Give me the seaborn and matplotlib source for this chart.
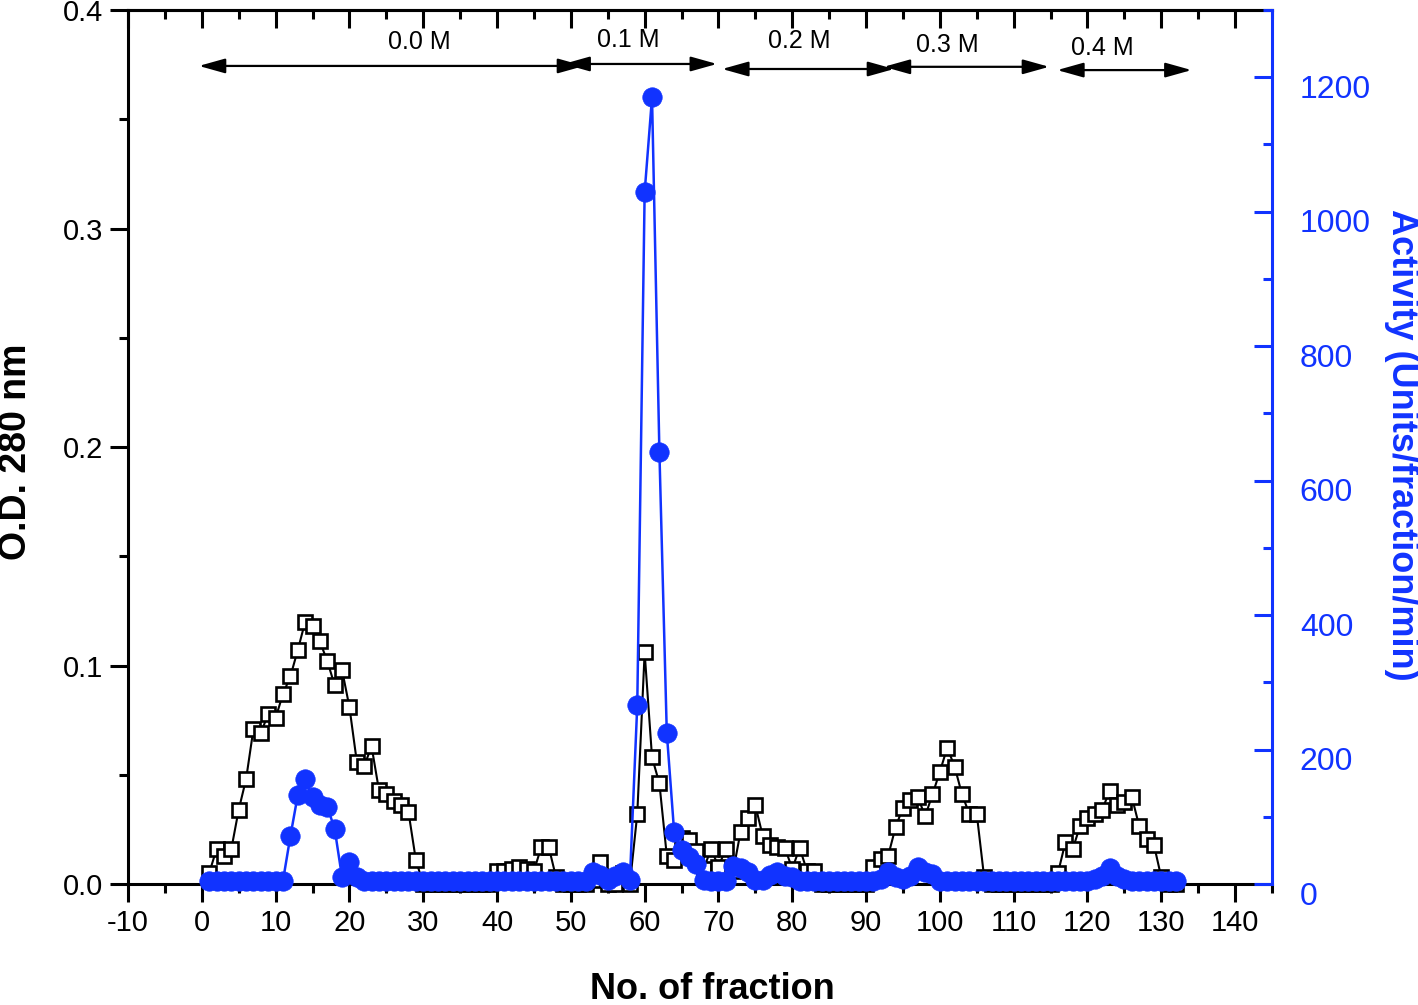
import numpy as np
import pandas as pd
import matplotlib
matplotlib.use("Agg")
import matplotlib.pyplot as plt
import matplotlib.transforms as mtransforms
from matplotlib.ticker import MultipleLocator
import seaborn as sns

# ---------------- data ----------------
fractions = list(range(1, 133))

od_280 = [
    0.005, 0.016, 0.013, 0.016, 0.034, 0.048, 0.071, 0.069, 0.078, 0.076,   # 1-10
    0.087, 0.095, 0.107, 0.120, 0.118, 0.111, 0.102, 0.091, 0.098, 0.081,   # 11-20
    0.056, 0.054, 0.063, 0.043, 0.041, 0.038, 0.036, 0.033, 0.011, 0.000,   # 21-30
    0.000, 0.000, 0.000, 0.000, 0.000, 0.000, 0.000, 0.000, 0.000, 0.006,   # 31-40
    0.006, 0.007, 0.008, 0.007, 0.006, 0.017, 0.017, 0.003, 0.000, 0.000,   # 41-50
    0.000, 0.000, 0.002, 0.010, 0.000, 0.000, 0.005, 0.000, 0.032, 0.106,   # 51-60
    0.058, 0.046, 0.013, 0.011, 0.021, 0.020, 0.015, 0.007, 0.016, 0.008,   # 61-70
    0.016, 0.006, 0.024, 0.030, 0.036, 0.022, 0.018, 0.017, 0.0165, 0.007, # 71-80
    0.0165, 0.006, 0.006, 0.000, 0.000, 0.000, 0.000, 0.000, 0.000, 0.000,  # 81-90
    0.008, 0.0115, 0.013, 0.026, 0.035, 0.0385, 0.040, 0.031, 0.041, 0.0514, # 91-100
    0.0624, 0.0537, 0.041, 0.032, 0.032, 0.003, 0.000, 0.000, 0.000, 0.000, # 101-110
    0.000, 0.000, 0.000, 0.000, 0.000, 0.005, 0.019, 0.016, 0.0266, 0.030,  # 111-120
    0.032, 0.034, 0.0427, 0.036, 0.0376, 0.040, 0.0266, 0.0206, 0.018, 0.003, # 121-130
    0.000, 0.000,                                                            # 131-132
]

activity = [
    5, 5, 5, 5, 5, 5, 5, 5, 5, 5,                 # 1-10
    5, 71, 132, 156, 129, 117, 115, 82, 10, 33,   # 11-20
    10, 5, 5, 5, 5, 5, 5, 5, 5, 5,                # 21-30
    5, 5, 5, 5, 5, 5, 5, 5, 5, 5,                 # 31-40
    5, 5, 5, 5, 5, 5, 5, 5, 5, 5,                 # 41-50
    5, 5, 18, 13, 6, 12, 18, 6, 266, 1029,        # 51-60
    1170, 642, 225, 77, 50, 40, 30, 6, 5, 5,      # 61-70
    5, 27, 24, 18, 6, 6, 13, 18, 12, 10,          # 71-80
    5, 5, 5, 5, 5, 5, 5, 5, 5, 5,                 # 81-90
    5, 8, 18, 10, 8, 12, 25, 18, 15, 5,           # 91-100
    5, 5, 5, 5, 5, 5, 5, 5, 5, 5,                 # 101-110
    5, 5, 5, 5, 5, 5, 5, 5, 5, 5,                 # 111-120
    8, 12, 24, 12, 8, 5, 5, 5, 5, 5,              # 121-130
    5, 5,                                          # 131-132
]

x_ticks = list(range(-10, 141, 10))
od_ticks = [0.0, 0.1, 0.2, 0.3, 0.4]
act_ticks = [0, 200, 400, 600, 800, 1000, 1200]

# salt step annotations (label, start fraction, end fraction)
step_labels = ["0.0 M", "0.1 M", "0.2 M", "0.3 M", "0.4 M"]
step_start = [-0.4, 49.0, 70.5, 92.4, 115.9]
step_end = [51.8, 69.8, 93.8, 114.8, 134.1]
step_arrow_y = [0.3744, 0.3753, 0.3730, 0.3740, 0.3725]
step_text_y = [0.3852, 0.3862, 0.3856, 0.3838, 0.3826]
step_text_x = [29.5, 57.8, 81.0, 101.0, 122.0]

BLUE = "#1133ff"

df = pd.DataFrame({"fraction": fractions, "od": od_280, "act": activity})

# ---------------- style ----------------
sns.set_style("ticks")
plt.rcParams["font.family"] = ["Liberation Sans", "DejaVu Sans"]
plt.rcParams["axes.unicode_minus"] = False
plt.rcParams["text.color"] = "black"
plt.rcParams["axes.labelcolor"] = "black"
plt.rcParams["xtick.color"] = "black"
plt.rcParams["ytick.color"] = "black"
plt.rcParams["axes.edgecolor"] = "black"

fig = plt.figure(figsize=(14.18, 10.05), dpi=100)
ax = fig.add_axes([128 / 1418, 1 - 884 / 1005, (1272 - 128) / 1418, (884 - 10) / 1005])
ax2 = ax.twinx()

# O.D. 280 nm (open squares)
sns.lineplot(data=df, x="fraction", y="od", ax=ax, color="black", lw=1.5,
             marker="s", markersize=10.5, markerfacecolor="white",
             markeredgecolor="black", markeredgewidth=1.9,
             estimator=None, sort=False, clip_on=False, zorder=3)

# Activity (filled blue circles)
sns.lineplot(data=df, x="fraction", y="act", ax=ax2, color=BLUE, lw=1.8,
             marker="o", markersize=14, markerfacecolor=BLUE,
             markeredgecolor=BLUE, markeredgewidth=0.5,
             estimator=None, sort=False, clip_on=False, zorder=4)

# ---------------- axes ----------------
ax.set_xlim(-10, 145)
ax.set_ylim(0, 0.4)
ax2.set_ylim(0, 1300)

ax.set_xticks(x_ticks)
ax.xaxis.set_minor_locator(MultipleLocator(5))
ax.set_yticks(od_ticks)
ax.set_yticklabels([f"{v:.1f}" for v in od_ticks])
ax.yaxis.set_minor_locator(MultipleLocator(0.05))
ax2.set_yticks(act_ticks)
ax2.yaxis.set_minor_locator(MultipleLocator(100))

lw_sp = 2.2
for s in ["left", "bottom", "top"]:
    ax.spines[s].set_linewidth(lw_sp)
    ax.spines[s].set_color("black")
ax.spines["right"].set_visible(False)
for s in ["left", "bottom", "top"]:
    ax2.spines[s].set_visible(False)
ax2.spines["right"].set_visible(True)
ax2.spines["right"].set_color(BLUE)
ax2.spines["right"].set_linewidth(lw_sp)

ax.tick_params(axis="both", which="major", direction="out", length=13, width=2.2,
               labelsize=21, pad=5, top=False, right=False, colors="black")
ax.tick_params(axis="both", which="minor", direction="out", length=6.5, width=2.2,
               top=False, right=False, colors="black")

secax = ax.secondary_xaxis("top")
secax.set_xticks(x_ticks)
secax.xaxis.set_minor_locator(MultipleLocator(5))
secax.tick_params(axis="x", which="major", direction="in", length=13, width=2.2,
                  labeltop=False, colors="black")
secax.tick_params(axis="x", which="minor", direction="in", length=6.5, width=2.2,
                  colors="black")
secax.spines["top"].set_linewidth(lw_sp)
secax.spines["top"].set_color("black")

ax2.tick_params(axis="y", which="major", direction="in", length=13, width=2.2,
                labelsize=23, pad=20, colors=BLUE)
ax2.tick_params(axis="y", which="minor", direction="in", length=6.5, width=2.2, colors=BLUE)

# axis labels
ax.set_xlabel("No. of fraction", fontsize=26, fontweight="bold", color="black")
ax.xaxis.set_label_coords((712 - 128) / 1144, (884 - 972) / 874)
ax.set_ylabel("O.D. 280 nm", fontsize=27, fontweight="bold", color="black")
ax.yaxis.set_label_coords((34 - 128) / 1144, (884 - 452) / 874)
ax2.set_ylabel("")
fig.text(1401 / 1418, 1 - 445 / 1005, "Activity (Units/fraction/min)", rotation=-90,
         ha="center", va="center", fontsize=26, fontweight="bold", color=BLUE)

# salt-step arrows
for lab, x0, x1, ya, xt, yt in zip(step_labels, step_start, step_end,
                                   step_arrow_y, step_text_x, step_text_y):
    ax.annotate("", xy=(x1, ya), xytext=(x0, ya),
                arrowprops=dict(arrowstyle="<|-|>,head_length=1.0,head_width=0.28",
                                mutation_scale=16, color="black", lw=1.6,
                                shrinkA=0, shrinkB=0))
    ax.text(xt, yt, lab, ha="center", va="center", fontsize=18, color="black")

# shift right tick labels slightly downward, as in the reference
offset = mtransforms.ScaledTranslation(0, -9 / 100, fig.dpi_scale_trans)
for t in ax2.yaxis.get_major_ticks():
    t.label2.set_transform(t.label2.get_transform() + offset)

fig.savefig("out.png", dpi=100)
